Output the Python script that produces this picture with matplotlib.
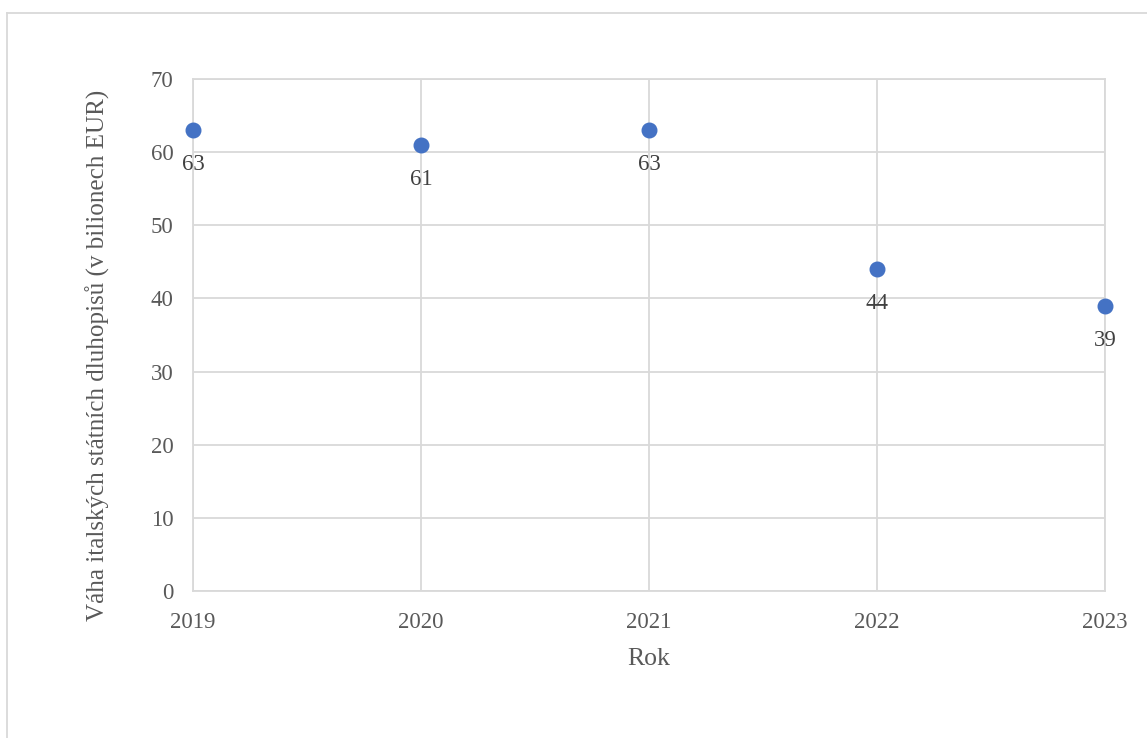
import matplotlib.pyplot as plt
from matplotlib.lines import Line2D

# data
years = [2019, 2020, 2021, 2022, 2023]
values = [63, 61, 63, 44, 39]
y_ticks = [0, 10, 20, 30, 40, 50, 60, 70]

plt.rcParams['font.family'] = ['Liberation Serif', 'DejaVu Serif']
text_color = '#595959'
grid_color = '#d9d9d9'

W, H = 1147, 738
fig = plt.figure(figsize=(W / 100, H / 100), dpi=100)
ax = fig.add_axes([193 / W, 1 - 591 / H, (1105 - 193) / W, (591 - 79) / H])

ax.scatter(years, values, s=110, color='#4472C4', zorder=3, clip_on=False)
for x, y in zip(years, values):
    ax.annotate(str(y), (x, y), xytext=(0, -25), textcoords='offset points',
                ha='center', va='center', fontsize=16.5, color='#404040')

ax.set_xlim(2019, 2023)
ax.set_ylim(0, 70)
ax.set_xticks(years)
ax.set_yticks(y_ticks)
ax.grid(True, color=grid_color, linewidth=1.3)
ax.set_axisbelow(True)
for s in ax.spines.values():
    s.set_color(grid_color)
    s.set_linewidth(1.3)
ax.tick_params(length=0, labelsize=16.5, colors=text_color)
ax.tick_params(axis='x', pad=15)
ax.tick_params(axis='y', pad=14)

ax.set_xlabel('Rok', fontsize=18.5, color=text_color, labelpad=11)
ax.set_ylabel('Váha italských státních dluhopisů (v bilionech EUR)',
              fontsize=18.1, color=text_color, labelpad=29)
ax.yaxis.label.set_y(0.461)

# chart frame (extends past the image on right and bottom)
fig.lines.append(Line2D([7.5 / W, 7.5 / W], [0, 1 - 12.5 / H],
                        transform=fig.transFigure, color=grid_color, lw=1.3))
fig.lines.append(Line2D([7.5 / W, 1], [1 - 12.5 / H, 1 - 12.5 / H],
                        transform=fig.transFigure, color=grid_color, lw=1.3))

fig.savefig('out.png', dpi=100)
